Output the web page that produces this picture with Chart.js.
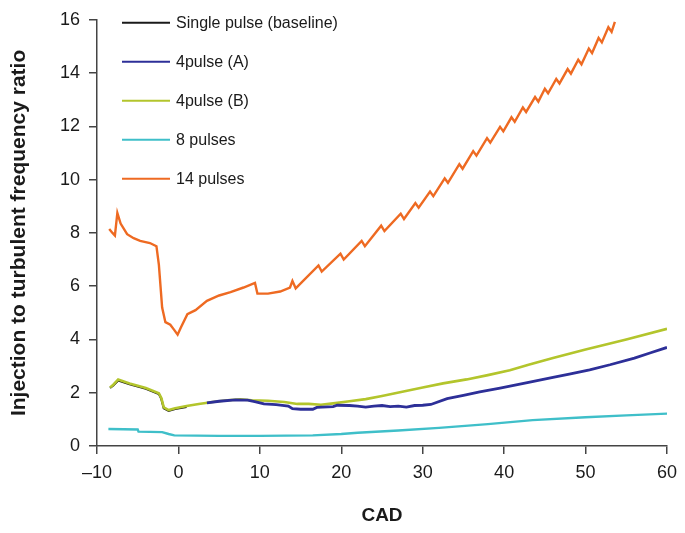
<!DOCTYPE html>
<html>
<head>
<meta charset="utf-8">
<script src="https://cdn.jsdelivr.net/npm/chart.js@4.4.1/dist/chart.umd.min.js"></script>
<style>
  html, body { margin: 0; padding: 0; background: #fff; }
  #wrap { width: 685px; height: 533px; }
</style>
</head>
<body>
<div id="wrap"><canvas id="chart" width="685" height="533"></canvas></div>
<script>
// series labels (legend order)
const seriesNames = ['Single pulse (baseline)', '4pulse (A)', '4pulse (B)', '8 pulses', '14 pulses'];
const seriesColors = ['#1a1a1a', '#2d2f98', '#b3c52c', '#3fbfc9', '#ee6a22'];

// axis ticks
const xTicks = [-10, 0, 10, 20, 30, 40, 50, 60];
const yTicks = [0, 2, 4, 6, 8, 10, 12, 14, 16];

// [CAD, ratio]
const baseline = [[-8.4, 2.18], [-8.0, 2.27], [-7.4, 2.46], [-6, 2.32], [-4, 2.15], [-2.4, 1.95], [-2.1, 1.77], [-1.8, 1.42], [-1.2, 1.32], [-0.4, 1.39], [1, 1.47]];

const pulse4A = [[3.5, 1.62], [5, 1.68], [7, 1.73], [8.5, 1.72], [9.5, 1.66], [10.5, 1.58], [12, 1.55], [13.5, 1.5], [14, 1.4], [15, 1.38], [16.5, 1.38], [17, 1.45], [19, 1.48], [19.5, 1.53], [21, 1.52], [22, 1.5], [23, 1.46], [24, 1.5], [25, 1.52], [26, 1.48], [27, 1.5], [28, 1.46], [29, 1.52], [30, 1.53], [31, 1.56], [33, 1.78], [35, 1.9], [37, 2.03], [39.5, 2.17], [43, 2.39], [46, 2.58], [48, 2.7], [50.5, 2.86], [53, 3.05], [56, 3.3], [58, 3.5], [60, 3.7]];

const pulse4B = [[-8.4, 2.2], [-8.0, 2.3], [-7.4, 2.5], [-6, 2.35], [-4, 2.18], [-2.4, 1.98], [-2.1, 1.8], [-1.8, 1.45], [-1.2, 1.35], [-0.4, 1.42], [1, 1.5], [2.5, 1.58], [4.2, 1.65], [6, 1.72], [7.6, 1.75], [9, 1.72], [11, 1.7], [13, 1.65], [14.6, 1.58], [16, 1.58], [17.5, 1.55], [19, 1.6], [21, 1.68], [23, 1.76], [25, 1.88], [27.2, 2.02], [30, 2.2], [32.5, 2.35], [35.4, 2.5], [38, 2.66], [40.7, 2.84], [43, 3.05], [46, 3.3], [50, 3.62], [55, 4.0], [60, 4.4]];

const pulse8 = [[-8.6, 0.64], [-5, 0.62], [-4.9, 0.54], [-2, 0.52], [-1.2, 0.45], [-0.5, 0.4], [5, 0.38], [10, 0.38], [16.5, 0.4], [20, 0.45], [22, 0.5], [27, 0.58], [32, 0.68], [38, 0.82], [43.5, 0.97], [50, 1.08], [55, 1.15], [60.3, 1.22]];

const pulse14 = [[-8.5, 8.15], [-8.1, 8.0], [-7.8, 7.9], [-7.5, 8.75], [-7.1, 8.35], [-6.3, 7.95], [-5.5, 7.8], [-4.7, 7.7], [-3.5, 7.62], [-2.7, 7.5], [-2.4, 6.8], [-2.0, 5.2], [-1.6, 4.65], [-1.0, 4.55], [-0.5, 4.35], [-0.1, 4.18], [0.3, 4.45], [1.1, 4.95], [2.1, 5.1], [3.5, 5.45], [5, 5.65], [6.4, 5.78], [8, 5.95], [9.4, 6.12], [9.7, 5.72], [11, 5.72], [12.5, 5.8], [13.7, 5.95], [14.0, 6.2], [14.4, 5.92],
  [17.2, 6.78], [17.6, 6.55], [19.9, 7.22], [20.3, 7.0], [22.5, 7.7], [22.9, 7.5], [24.9, 8.27], [25.3, 8.07], [27.3, 8.72], [27.7, 8.52], [29.1, 9.12], [29.5, 8.95], [30.9, 9.55], [31.3, 9.38],
  [32.7, 10.05], [33.1, 9.88], [34.5, 10.58], [34.9, 10.41], [36.2, 11.07], [36.6, 10.9], [37.9, 11.56], [38.3, 11.39], [39.5, 11.98], [39.9, 11.81], [40.9, 12.34], [41.3, 12.17], [42.3, 12.71], [42.7, 12.54], [43.8, 13.1], [44.2, 12.93], [45.0, 13.41], [45.4, 13.24], [46.4, 13.78], [46.8, 13.61], [47.8, 14.15], [48.2, 13.98], [49.1, 14.5], [49.5, 14.33], [50.4, 14.92], [50.8, 14.75], [51.6, 15.32], [52.0, 15.15], [52.8, 15.72], [53.2, 15.55], [53.6, 15.92]];

const seriesData = [baseline, pulse4A, pulse4B, pulse8, pulse14];
const seriesWidths = [2.2, 2.8, 2.6, 2.4, 2.4];
const seriesOrder = [10, 1, 2, 3, 4];

const axisColor = '#444';
const fontFamily = '"Liberation Sans", Arial, Helvetica, sans-serif';

// legend drawn inside the plot, top-left, as in the figure
const insideLegend = {
  id: 'insideLegend',
  afterDraw(chart) {
    const ctx = chart.ctx;
    const area = chart.chartArea;
    ctx.save();
    ctx.font = '16px ' + fontFamily;
    ctx.textBaseline = 'middle';
    chart.data.datasets.forEach((ds, i) => {
      const y = area.top + 3 + i * 39;
      const x = area.left + 25;
      ctx.strokeStyle = ds.borderColor;
      ctx.lineWidth = 2;
      ctx.beginPath();
      ctx.moveTo(x, y);
      ctx.lineTo(x + 48, y);
      ctx.stroke();
      ctx.fillStyle = '#1a1a1a';
      ctx.fillText(ds.label, x + 54, y + 1);
    });
    ctx.restore();
  }
};

const ctx = document.getElementById('chart').getContext('2d');
new Chart(ctx, {
  type: 'line',
  data: {
    datasets: seriesNames.map((name, i) => ({
      label: name,
      data: seriesData[i].map(p => ({ x: p[0], y: p[1] })),
      borderColor: seriesColors[i],
      backgroundColor: seriesColors[i],
      borderWidth: seriesWidths[i],
      pointRadius: 0,
      tension: 0,
      order: seriesOrder[i]
    }))
  },
  options: {
    responsive: false,
    animation: false,
    layout: { padding: { top: 18, right: 17, left: 0, bottom: 0 } },
    plugins: {
      legend: { display: false },
      tooltip: { enabled: false }
    },
    scales: {
      x: {
        type: 'linear',
        min: -10,
        max: 60,
        afterBuildTicks: s => { s.ticks = xTicks.map(v => ({ value: v })); },
        afterFit: s => { s.height = 87; },
        grid: { drawOnChartArea: false, tickLength: 8, tickColor: axisColor, lineWidth: 1.5 },
        border: { color: axisColor, width: 1.5 },
        ticks: {
          color: '#1a1a1a',
          padding: 8,
          font: { size: 18, family: fontFamily },
          callback: v => (v < 0 ? '\u2013' + Math.abs(v) : String(v))
        },
        title: {
          display: true,
          text: 'CAD',
          color: '#1a1a1a',
          font: { size: 19, weight: 'bold', family: fontFamily },
          padding: { top: 0, bottom: 6 }
        }
      },
      y: {
        min: 0,
        max: 16,
        afterBuildTicks: s => { s.ticks = yTicks.map(v => ({ value: v })); },
        afterFit: s => { s.width = 97; },
        grid: { drawOnChartArea: false, tickLength: 8, tickColor: axisColor, lineWidth: 1.5 },
        border: { color: axisColor, width: 1.5 },
        ticks: {
          color: '#1a1a1a',
          padding: 9,
          font: { size: 18, family: fontFamily }
        },
        title: {
          display: true,
          text: 'Injection to turbulent frequency ratio',
          color: '#1a1a1a',
          font: { size: 21, weight: 'bold', family: fontFamily },
          padding: { top: 7, bottom: 0 }
        }
      }
    }
  },
  plugins: [insideLegend]
});
</script>
</body>
</html>
